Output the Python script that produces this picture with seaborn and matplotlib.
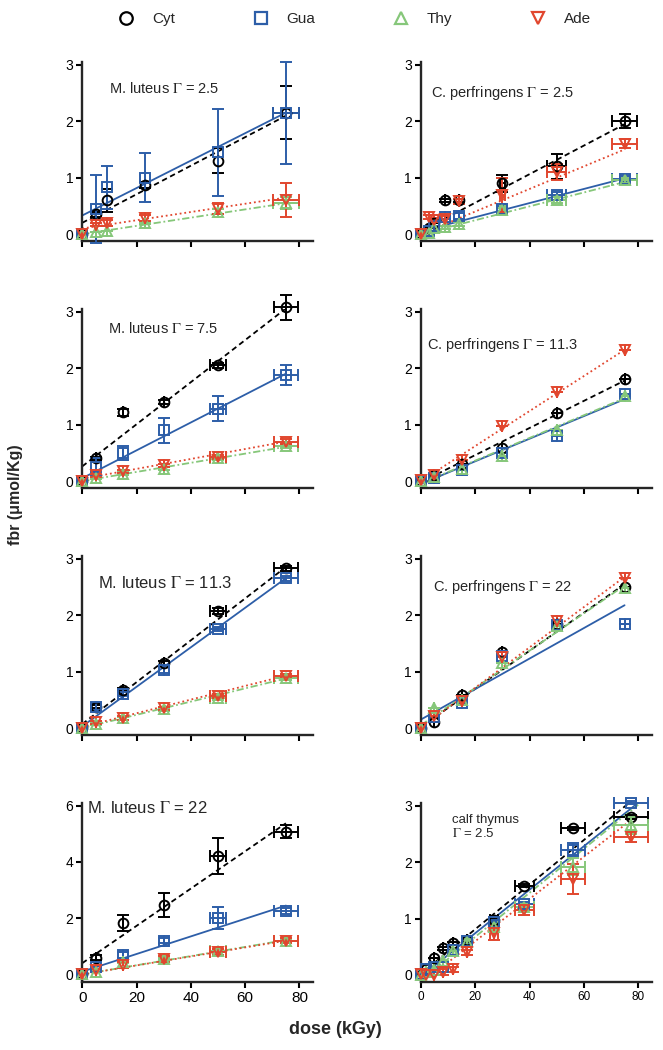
import numpy as np
import pandas as pd
import matplotlib
matplotlib.use("Agg")
import matplotlib.pyplot as plt
from matplotlib.lines import Line2D
import seaborn as sns

# ---- data (fbr in umol/Kg vs dose in kGy) ----
BASES = ["Cyt", "Gua", "Thy", "Ade"]

# M. luteus, Gamma = 2.5
ml25_dose = [0, 5, 9, 23, 50, 75]
ml25_xerr = [0, 0, 0, 0, 0, 4.8]
ml25_y = {"Cyt": [0, 0.35, 0.6, 0.87, 1.3, 2.15],
          "Gua": [0, 0.45, 0.83, 1.0, 1.45, 2.15],
          "Thy": [0, 0.03, 0.05, 0.2, 0.4, 0.55],
          "Ade": [0, 0.17, 0.2, 0.28, 0.45, 0.6]}
ml25_yerr = {"Cyt": [0, 0.05, 0.2, 0.05, 0.22, 0.47],
             "Gua": [0, 0.6, 0.38, 0.43, 0.77, 0.9],
             "Thy": [0, 0, 0, 0.02, 0.05, 0.1],
             "Ade": [0, 0.03, 0.05, 0.05, 0.1, 0.3]}
ml25_fit = {"Cyt": (0.2, 0.0253), "Gua": (0.33, 0.0243),
            "Thy": (0.0, 0.0073), "Ade": (0.1, 0.0073)}

# C. perfringens, Gamma = 2.5
cp25_dose = [0, 3, 5, 9, 14, 30, 50, 75]
cp25_xerr = [0, 0, 0, 0, 0, 1, 3.5, 4.5]
cp25_y = {"Cyt": [0, 0.1, 0.2, 0.6, 0.6, 0.9, 1.2, 2.0],
          "Gua": [0, 0.05, 0.15, 0.3, 0.32, 0.45, 0.7, 0.98],
          "Thy": [0, 0.02, 0.1, 0.12, 0.18, 0.42, 0.6, 0.95],
          "Ade": [0, 0.3, 0.25, 0.27, 0.58, 0.7, 1.1, 1.6]}
cp25_yerr = {"Cyt": [0, 0, 0, 0.03, 0.03, 0.15, 0.22, 0.12],
             "Gua": [0, 0, 0, 0.03, 0.05, 0.05, 0.05, 0.05],
             "Thy": [0, 0, 0, 0.03, 0.03, 0.04, 0.05, 0.05],
             "Ade": [0, 0.03, 0.03, 0.05, 0.05, 0.3, 0.15, 0.08]}
cp25_fit = {"Cyt": (0.05, 0.0253), "Gua": (0.05, 0.0125),
            "Thy": (0.0, 0.0123), "Ade": (0.0, 0.02)}

# M. luteus, Gamma = 7.5
ml75_dose = [0, 5, 15, 30, 50, 75]
ml75_xerr = [0, 0, 0, 0, 3, 4.5]
ml75_y = {"Cyt": [0, 0.4, 1.22, 1.4, 2.05, 3.08],
          "Gua": [0, 0.25, 0.5, 0.9, 1.28, 1.88],
          "Thy": [0, 0.05, 0.13, 0.22, 0.4, 0.62],
          "Ade": [0, 0.1, 0.17, 0.28, 0.43, 0.7]}
ml75_yerr = {"Cyt": [0, 0.03, 0.06, 0.04, 0.04, 0.22],
             "Gua": [0, 0.15, 0.13, 0.22, 0.22, 0.18],
             "Thy": [0, 0.02, 0.03, 0.03, 0.03, 0.03],
             "Ade": [0, 0.02, 0.03, 0.03, 0.04, 0.05]}
ml75_fit = {"Cyt": (0.26, 0.0373), "Gua": (0.05, 0.0247),
            "Thy": (0.0, 0.0081), "Ade": (0.04, 0.0088)}

# C. perfringens, Gamma = 11.3
cp113_dose = [0, 5, 15, 30, 50, 75]
cp113_xerr = [0, 0, 0, 0, 0, 0]
cp113_y = {"Cyt": [0, 0.1, 0.3, 0.58, 1.2, 1.8],
           "Gua": [0, 0.06, 0.2, 0.5, 0.8, 1.55],
           "Thy": [0, 0.08, 0.22, 0.45, 0.9, 1.5],
           "Ade": [0.02, 0.1, 0.38, 0.97, 1.58, 2.33]}
cp113_yerr = {b: [0] * 6 for b in BASES}
cp113_fit = {"Cyt": (-0.02, 0.024), "Gua": (-0.05, 0.02),
             "Thy": (-0.04, 0.0201), "Ade": (0.0, 0.031)}

# M. luteus, Gamma = 11.3
ml113_dose = [0, 5, 15, 30, 50, 75]
ml113_xerr = [0, 0, 0, 0, 3, 4.5]
ml113_y = {"Cyt": [0, 0.38, 0.68, 1.15, 2.07, 2.83],
           "Gua": [0, 0.38, 0.6, 1.03, 1.75, 2.65],
           "Thy": [0, 0.07, 0.17, 0.33, 0.53, 0.88],
           "Ade": [0, 0.1, 0.18, 0.35, 0.57, 0.93]}
ml113_yerr = {"Cyt": [0, 0.03, 0.03, 0.03, 0.05, 0.04],
              "Gua": [0, 0.06, 0.04, 0.06, 0.04, 0.04],
              "Thy": [0, 0.02, 0.02, 0.03, 0.03, 0.03],
              "Ade": [0, 0.03, 0.03, 0.03, 0.03, 0.03]}
ml113_fit = {"Cyt": (0.07, 0.0371), "Gua": (0.03, 0.035),
             "Thy": (0.0, 0.0117), "Ade": (0.02, 0.0121)}

# C. perfringens, Gamma = 22
cp22_dose = [0, 5, 15, 30, 50, 75]
cp22_xerr = [0, 0, 0, 0, 0, 0]
cp22_y = {"Cyt": [0, 0.1, 0.58, 1.35, 1.85, 2.5],
          "Gua": [0, 0.2, 0.45, 1.28, 1.82, 1.84],
          "Thy": [0, 0.35, 0.5, 1.15, 1.8, 2.48],
          "Ade": [0, 0.22, 0.48, 1.25, 1.9, 2.65]}
cp22_yerr = {b: [0] * 6 for b in BASES}
cp22_fit = {"Cyt": (0.02, 0.0337), "Gua": (0.15, 0.027),
            "Thy": (0.05, 0.033), "Ade": (0.0, 0.0357)}

# M. luteus, Gamma = 22
ml22_dose = [0, 5, 15, 30, 50, 75]
ml22_xerr = [0, 0, 0, 0, 3, 4.5]
ml22_y = {"Cyt": [0, 0.6, 1.83, 2.47, 4.2, 5.07],
          "Gua": [0, 0.25, 0.7, 1.2, 2.0, 2.25],
          "Thy": [0, 0.1, 0.45, 0.55, 0.85, 1.2],
          "Ade": [0, 0.15, 0.33, 0.55, 0.8, 1.2]}
ml22_yerr = {"Cyt": [0, 0.08, 0.27, 0.42, 0.64, 0.23],
             "Gua": [0, 0.05, 0.1, 0.08, 0.38, 0.1],
             "Thy": [0, 0.03, 0.05, 0.05, 0.05, 0.05],
             "Ade": [0, 0.05, 0.1, 0.1, 0.1, 0.08]}
ml22_fit = {"Cyt": (0.4, 0.0663), "Gua": (0.1, 0.0313),
            "Thy": (0.0, 0.0163), "Ade": (0.0, 0.016)}

# calf thymus, Gamma = 2.5
ct25_dose = [0, 2, 5, 8, 12, 17, 27, 38, 56, 77.5]
ct25_xerr = [0, 0, 0, 0, 0, 0, 1.5, 3.5, 4.5, 6.3]
ct25_y = {"Cyt": [0, 0.1, 0.3, 0.47, 0.56, 0.62, 0.97, 1.58, 2.6, 2.8],
          "Gua": [0.02, 0.1, 0.15, 0.15, 0.45, 0.6, 0.93, 1.25, 2.22, 3.05],
          "Thy": [0, 0.05, 0.08, 0.25, 0.42, 0.58, 0.85, 1.2, 1.92, 2.65],
          "Ade": [0.02, 0.0, 0.0, 0.05, 0.1, 0.4, 0.75, 1.15, 1.7, 2.45]}
ct25_yerr = {"Cyt": [0, 0, 0, 0.03, 0.03, 0.03, 0.03, 0.03, 0.03, 0.03],
             "Gua": [0, 0, 0, 0, 0, 0.05, 0.05, 0.05, 0.12, 0.03],
             "Thy": [0, 0, 0, 0, 0, 0.05, 0.05, 0.05, 0.15, 0.15],
             "Ade": [0, 0, 0, 0.05, 0.05, 0.05, 0.13, 0.08, 0.27, 0.1]}
ct25_fit = {"Cyt": (0.02, 0.0395), "Gua": (-0.03, 0.0385),
            "Thy": (-0.105, 0.039), "Ade": (-0.15, 0.0374)}

# ---- styling ----
COLORS = {"Cyt": "black", "Gua": "#2d5ea8", "Thy": "#86c77a", "Ade": "#e1462e"}
MARKERS = {"Cyt": "o", "Gua": "s", "Thy": "^", "Ade": "v"}
DASHES = {"Cyt": (3, 2), "Gua": "", "Thy": (4, 1.5, 1, 1.5), "Ade": (1, 1.6)}

sns.set_theme(style="ticks")
plt.rcParams["font.family"] = ["Liberation Sans", "DejaVu Sans"]
plt.rcParams["mathtext.fontset"] = "stix"

panels = [
    (ml25_dose, ml25_xerr, ml25_y, ml25_yerr, ml25_fit, 75,
     "M. luteus $\\Gamma$ = 2.5", (0.117, 0.854), 10.5),
    (cp25_dose, cp25_xerr, cp25_y, cp25_yerr, cp25_fit, 75,
     "C. perfringens $\\Gamma$ = 2.5", (0.043, 0.826), 10.5),
    (ml75_dose, ml75_xerr, ml75_y, ml75_yerr, ml75_fit, 75,
     "M. luteus $\\Gamma$ = 7.5", (0.113, 0.893), 10.5),
    (cp113_dose, cp113_xerr, cp113_y, cp113_yerr, cp113_fit, 75,
     "C. perfringens $\\Gamma$ = 11.3", (0.026, 0.80), 10.5),
    (ml113_dose, ml113_xerr, ml113_y, ml113_yerr, ml113_fit, 75,
     "M. luteus $\\Gamma$ = 11.3", (0.07, 0.85), 12),
    (cp22_dose, cp22_xerr, cp22_y, cp22_yerr, cp22_fit, 75,
     "C. perfringens $\\Gamma$ = 22", (0.052, 0.826), 10.5),
    (ml22_dose, ml22_xerr, ml22_y, ml22_yerr, ml22_fit, 75,
     "M. luteus $\\Gamma$ = 22", (0.02, 0.97), 12),
    (ct25_dose, ct25_xerr, ct25_y, ct25_yerr, ct25_fit, 80,
     "calf thymus\n$\\Gamma$ = 2.5", (0.134, 0.865), 9.5),
]

fig = plt.figure(figsize=(6.63, 10.5), dpi=100)
axes = fig.subplots(4, 2)
fig.subplots_adjust(left=0.124, right=0.983, top=0.941, bottom=0.065,
                    wspace=0.467, hspace=0.38)

for i, (ax, p) in enumerate(zip(axes.flat, panels)):
    dose, xerr, ys, yerrs, fits, xend, label, pos, fs = p

    # fitted lines
    for b in BASES:
        a, k = fits[b]
        xs = np.array([0, xend])
        fit_df = pd.DataFrame({"dose": xs, "fbr": a + k * xs})
        sns.lineplot(data=fit_df, x="dose", y="fbr", ax=ax, color=COLORS[b],
                     dashes=False, linewidth=1.3)
        ax.lines[-1].set_dashes(DASHES[b]) if DASHES[b] else None

    # data points with error bars
    for b in BASES:
        eb = ax.errorbar(dose, ys[b], yerr=yerrs[b], xerr=xerr, fmt=MARKERS[b],
                         color=COLORS[b], mfc="none", mec=COLORS[b], ms=7,
                         mew=1.4, elinewidth=1.4, capsize=4, capthick=1.4,
                         zorder=3)
        for art in eb.lines[0:1] + eb.lines[1] + eb.lines[2]:
            if art is not None:
                art.set_clip_on(False)

    big = i == 6
    ax.set_xlim(0, 85)
    if big:
        ax.set_ylim(-0.26, 6.1)
        ax.set_yticks([0, 2, 4, 6])
    else:
        ax.set_ylim(-0.12, 3.05)
        ax.set_yticks([0, 1, 2, 3])
    ax.set_xticks([0, 20, 40, 60, 80])
    ax.set_xlabel("")
    ax.set_ylabel("")
    for s in ["top", "right"]:
        ax.spines[s].set_visible(False)
    for s in ["left", "bottom"]:
        ax.spines[s].set_linewidth(1.7)
    ax.tick_params(axis="both", length=4.5, width=1.5, pad=2,
                   labelsize=10, colors="black")
    if i < 6:
        ax.tick_params(axis="x", labelbottom=False)
    else:
        ax.tick_params(axis="x", labelsize=11 if i == 6 else 8.5)
    ax.text(pos[0], pos[1], label, transform=ax.transAxes, fontsize=fs,
            ha="left", va="center", linespacing=1.1)

handles = [Line2D([], [], linestyle="none", marker=MARKERS[b], ms=9, mew=1.6,
                  mfc="none", mec=COLORS[b]) for b in BASES]
fig.legend(handles, BASES, loc="center", ncol=4, frameon=False,
           bbox_to_anchor=(351 / 663, 1 - 19 / 1050), fontsize=11,
           columnspacing=4.6, handletextpad=0.7)

fig.text(16 / 663, 0.5 + 30 / 1050, "fbr (\u03bcmol/Kg)", rotation=90,
         ha="center", va="center", fontsize=11.5, fontweight="bold")
fig.text(335 / 663, 1 - 1030 / 1050, "dose (kGy)", ha="center", va="center",
         fontsize=13, fontweight="bold")

fig.savefig("out.png", dpi=100)
